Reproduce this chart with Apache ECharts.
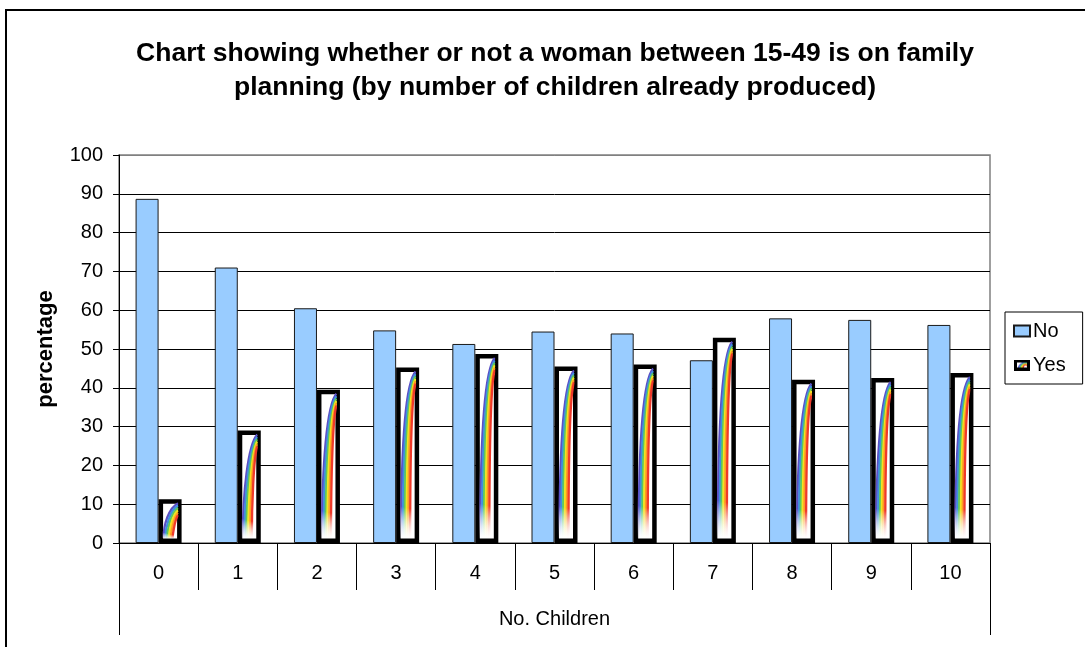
<!DOCTYPE html>
<html>
<head>
<meta charset="utf-8">
<script src="https://cdn.jsdelivr.net/npm/echarts@6/dist/echarts.min.js"></script>
<style>
  html, body { margin: 0; padding: 0; background: #fff; }
  #chart { width: 1085px; height: 647px; }
</style>
</head>
<body>
<div id="chart"></div>
<script>
// Share of women aged 15-49 using family planning, by number of children
const categories = ['0', '1', '2', '3', '4', '5', '6', '7', '8', '9', '10'];
const noValues  = [88.7, 71.0, 60.5, 54.8, 51.3, 54.5, 54.0, 47.1, 57.9, 57.5, 56.2];
const yesValues = [11.3, 29.0, 39.5, 45.2, 48.7, 45.5, 46.0, 52.9, 42.1, 42.5, 43.8];
const groupLabel = ['No. Children'];
const yTicks = { min: 0, max: 100, interval: 10 };

const FONT = "'Liberation Sans', Arial, sans-serif";
const BAR_W = 23;
const RAINBOW = ['#5b4fc4', '#3f8fe0', '#5cc85c', '#f2e320', '#ff9b22', '#ee3a2a'];

// small legend swatch: thick black frame with a rainbow streak
function yesIcon() {
  const c = document.createElement('canvas');
  c.width = 32; c.height = 22;
  const g = c.getContext('2d');
  g.fillStyle = '#fff'; g.fillRect(0, 0, 32, 22);
  for (let i = 0; i < RAINBOW.length; i++) {
    g.strokeStyle = RAINBOW[i]; g.lineWidth = 2;
    g.beginPath();
    g.moveTo(8 + i * 2, 19);
    g.quadraticCurveTo(10 + i * 2, 6, 28, 4 + i * 2);
    g.stroke();
  }
  g.strokeStyle = '#000'; g.lineWidth = 6; g.strokeRect(3, 3, 26, 16);
  return 'image://' + c.toDataURL();
}

// rainbow streaks painted inside each "Yes" column
function renderRainbow(params, api) {
  const i = api.value(0);
  const v = api.value(1);
  const top = api.coord([i, v]);
  const base = api.coord([i, 0]);
  const cx = top[0];
  const xl = cx + 3, xr = cx + BAR_W - 3;
  const yt = top[1] + 3, yb = base[1] - 2;
  const w = xr - xl, h = yb - yt;
  const children = [];
  for (let k = 0; k < RAINBOW.length; k++) {
    const d = k * 1.8;
    const x0 = xl + w * 0.12 + d;
    const y0 = yb - 3;
    const x1 = xr - 0.5;
    const y1 = yt + 1 + k * 2.4;
    const c1y = y1 + Math.min(h * 0.55, 70);
    const c2x = x0 + (x1 - x0) * 0.35;
    const c2y = y1 + Math.min(h * 0.12, 10);
    children.push({
      type: 'bezierCurve',
      shape: { x1: x0, y1: y0, x2: x1, y2: y1, cpx1: x0, cpy1: c1y, cpx2: c2x, cpy2: c2y },
      style: {
        fill: null,
        lineWidth: 2.3,
        stroke: new echarts.graphic.LinearGradient(0, 1, 0, 0, [
          { offset: 0, color: 'rgba(255,255,255,0)' },
          { offset: 0.2, color: RAINBOW[k] },
          { offset: 1, color: RAINBOW[k] }
        ])
      }
    });
  }
  return {
    type: 'group',
    children: children,
    clipPath: { type: 'rect', shape: { x: xl, y: yt, width: w, height: h } }
  };
}

const chart = echarts.init(document.getElementById('chart'), null, { renderer: 'canvas' });

chart.setOption({
  backgroundColor: '#fff',
  animation: false,
  textStyle: { fontFamily: FONT },
  title: {
    text: 'Chart showing whether or not a woman between 15-49 is on family\nplanning (by number of children already produced)',
    left: 550,
    textAlign: 'center',
    top: 32,
    textStyle: { fontFamily: FONT, fontSize: 26.5, fontWeight: 'bold', color: '#000', lineHeight: 34 }
  },
  graphic: [{
    type: 'rect',
    shape: { x: 6, y: 10, width: 1100, height: 700 },
    style: { fill: null, stroke: '#000', lineWidth: 2 },
    silent: true
  }],
  legend: {
    orient: 'vertical',
    left: 1005,
    top: 312,
    padding: [9, 17, 9, 8],
    itemGap: 14,
    itemWidth: 16,
    itemHeight: 11,
    borderColor: '#000',
    borderWidth: 1,
    textStyle: { fontFamily: FONT, fontSize: 20, color: '#000', padding: [0, 0, 0, -2] },
    data: [
      { name: 'No', icon: 'rect' },
      { name: 'Yes', icon: yesIcon() }
    ]
  },
  grid: {
    left: 119, right: 95, top: 155, bottom: 104,
    show: true, borderColor: '#808080', borderWidth: 1.5, backgroundColor: '#fff'
  },
  xAxis: [{
    type: 'category',
    data: categories,
    axisLine: { show: true, lineStyle: { color: '#000', width: 1 } },
    axisTick: { show: true, length: 47, interval: 0, lineStyle: { color: '#000', width: 1 } },
    axisLabel: { fontFamily: FONT, fontSize: 20, color: '#000', margin: 20, interval: 0 }
  }, {
    type: 'category',
    data: groupLabel,
    position: 'bottom',
    axisLine: { show: false },
    axisTick: { show: true, length: 92, lineStyle: { color: '#000', width: 1 } },
    axisLabel: { fontFamily: FONT, fontSize: 20, color: '#000', margin: 66 }
  }],
  yAxis: {
    type: 'value',
    min: yTicks.min, max: yTicks.max, interval: yTicks.interval,
    name: 'percentage',
    nameLocation: 'middle',
    nameGap: 62,
    nameTextStyle: { fontFamily: FONT, fontSize: 22, fontWeight: 'bold', color: '#000' },
    axisLine: { show: true, lineStyle: { color: '#000', width: 1 } },
    axisTick: { show: true, length: 6, lineStyle: { color: '#000' } },
    axisLabel: { fontFamily: FONT, fontSize: 20, color: '#000', margin: 16 },
    splitLine: { lineStyle: { color: ['#000', '#000', '#000', '#000', '#000', '#000', '#000', '#000', '#000', '#000', '#808080'], width: 1 } }
  },
  series: [{
    name: 'No',
    type: 'bar',
    data: noValues,
    barWidth: BAR_W,
    barGap: '0%',
    itemStyle: { color: '#99ccff', borderColor: '#1a1a1a', borderWidth: 1 }
  }, {
    name: 'Yes',
    type: 'bar',
    data: yesValues,
    barWidth: BAR_W,
    barGap: '0%',
    itemStyle: { color: '#fff', borderColor: '#000', borderWidth: 4.5 }
  }, {
    name: 'YesRainbow',
    type: 'custom',
    data: yesValues.map((v, i) => [i, v]),
    renderItem: renderRainbow,
    z: 3,
    silent: true
  }]
});
</script>
</body>
</html>
